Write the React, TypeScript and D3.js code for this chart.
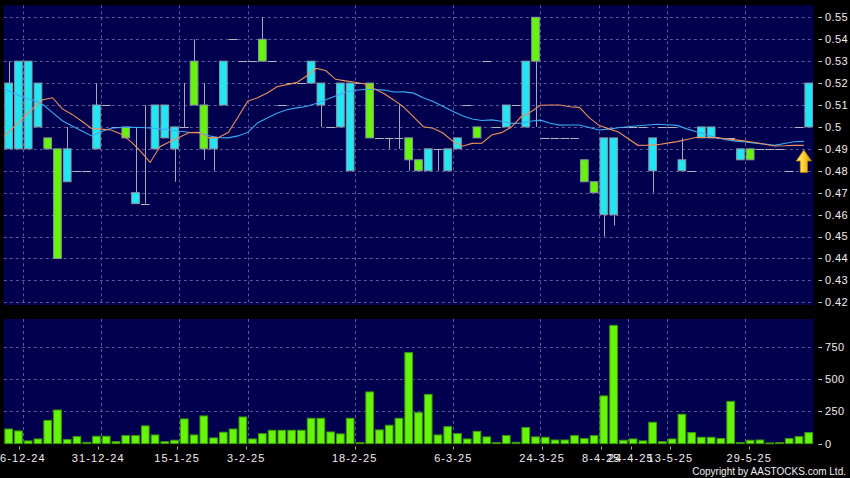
import React from "react";
import * as d3 from "d3";

// ---------- data ----------
const dateLabels = ["16-12-24", "31-12-24", "15-1-25", "3-2-25", "18-2-25", "6-3-25", "24-3-25", "8-4-25", "24-4-25", "13-5-25", "29-5-25"];
const dateIndex = [2, 10, 18, 25, 36, 46, 55, 61, 64, 68, 76];

const openP = [0.49, 0.49, 0.49, 0.5, 0.495, 0.49, 0.475, 0.48, 0.48, 0.49,
  0.51, 0.5, 0.5, 0.465, 0.465, 0.49, 0.495, 0.49, 0.5, 0.53,
  0.51, 0.49, 0.51, 0.54, 0.53, 0.53, 0.54, 0.53, 0.51, 0.52,
  0.52, 0.52, 0.51, 0.5, 0.5, 0.48, 0.52, 0.52, 0.495, 0.495,
  0.495, 0.495, 0.485, 0.48, 0.49, 0.48, 0.49, 0.51, 0.5, 0.53,
  0.5, 0.5, 0.51, 0.5, 0.55, 0.495, 0.495, 0.495, 0.495, 0.485,
  0.475, 0.46, 0.46, 0.5, 0.5, 0.5, 0.48, 0.5, 0.5, 0.48,
  0.48, 0.495, 0.495, 0.495, 0.495, 0.485, 0.49, 0.49, 0.49, 0.49,
  0.48, 0.5, 0.5];
const highP = [0.53, 0.53, 0.53, 0.52, 0.495, 0.49, 0.5, 0.48, 0.48, 0.52,
  0.51, 0.5, 0.5, 0.5, 0.51, 0.51, 0.51, 0.5, 0.52, 0.54,
  0.52, 0.495, 0.53, 0.54, 0.53, 0.53, 0.55, 0.53, 0.51, 0.52,
  0.52, 0.53, 0.52, 0.5, 0.52, 0.52, 0.52, 0.52, 0.495, 0.495,
  0.51, 0.495, 0.485, 0.49, 0.49, 0.49, 0.495, 0.51, 0.5, 0.53,
  0.5, 0.51, 0.51, 0.53, 0.55, 0.495, 0.495, 0.495, 0.495, 0.485,
  0.475, 0.495, 0.495, 0.5, 0.5, 0.5, 0.495, 0.5, 0.5, 0.495,
  0.48, 0.5, 0.5, 0.495, 0.495, 0.49, 0.49, 0.49, 0.49, 0.49,
  0.48, 0.5, 0.52];
const lowP = [0.49, 0.49, 0.49, 0.5, 0.49, 0.44, 0.475, 0.48, 0.48, 0.49,
  0.51, 0.5, 0.495, 0.465, 0.465, 0.49, 0.495, 0.475, 0.5, 0.51,
  0.485, 0.48, 0.51, 0.54, 0.53, 0.53, 0.53, 0.53, 0.51, 0.52,
  0.52, 0.52, 0.5, 0.5, 0.5, 0.48, 0.52, 0.495, 0.495, 0.49,
  0.49, 0.48, 0.48, 0.48, 0.48, 0.48, 0.49, 0.51, 0.495, 0.53,
  0.5, 0.5, 0.51, 0.5, 0.5, 0.495, 0.495, 0.495, 0.495, 0.475,
  0.47, 0.45, 0.455, 0.5, 0.5, 0.5, 0.47, 0.5, 0.5, 0.48,
  0.48, 0.495, 0.495, 0.495, 0.495, 0.485, 0.485, 0.49, 0.49, 0.49,
  0.48, 0.5, 0.5];
const closeP = [0.52, 0.53, 0.53, 0.52, 0.49, 0.44, 0.49, 0.48, 0.48, 0.51,
  0.51, 0.5, 0.495, 0.47, 0.465, 0.51, 0.51, 0.5, 0.5, 0.51,
  0.49, 0.495, 0.53, 0.54, 0.53, 0.53, 0.53, 0.53, 0.51, 0.52,
  0.52, 0.53, 0.52, 0.5, 0.52, 0.52, 0.52, 0.495, 0.495, 0.495,
  0.495, 0.485, 0.48, 0.49, 0.49, 0.49, 0.495, 0.51, 0.495, 0.53,
  0.5, 0.51, 0.51, 0.53, 0.53, 0.495, 0.495, 0.495, 0.495, 0.475,
  0.47, 0.495, 0.495, 0.5, 0.5, 0.5, 0.495, 0.5, 0.5, 0.485,
  0.48, 0.5, 0.5, 0.495, 0.495, 0.49, 0.485, 0.49, 0.49, 0.49,
  0.48, 0.5, 0.52];

const volumes = [113, 98, 21, 36, 180, 260, 31, 54, 10, 57,
  57, 15, 62, 62, 137, 67, 15, 26, 191, 67,
  214, 44, 88, 113, 206, 36, 77, 103, 103, 103,
  103, 196, 196, 90, 75, 196, 8, 400, 106, 142,
  196, 704, 240, 381, 67, 131, 77, 36, 95, 52,
  8, 62, 10, 124, 52, 49, 28, 28, 62, 39,
  62, 369, 915, 26, 36, 21, 165, 15, 36, 227,
  85, 49, 49, 39, 327, 8, 26, 28, 5, 8,
  39, 54, 85];

const maShort = [0.4956, 0.4998, 0.5041, 0.5085, 0.5124, 0.5133, 0.5082, 0.5057, 0.5026, 0.4993,
  0.499, 0.4986, 0.4968, 0.4934, 0.489, 0.4838, 0.491, 0.4932, 0.4953, 0.4974,
  0.4975, 0.4951, 0.4952, 0.4974, 0.5044, 0.5117, 0.5133, 0.5155, 0.5183, 0.5193,
  0.5202, 0.5231, 0.5267, 0.5257, 0.5217, 0.521, 0.5204, 0.5196, 0.5173, 0.5151,
  0.5122, 0.509, 0.5046, 0.5001, 0.4994, 0.4972, 0.4936, 0.4912, 0.4925, 0.4926,
  0.4963, 0.4974, 0.4998, 0.5045, 0.5068, 0.5099, 0.51, 0.51, 0.5092, 0.5089,
  0.5042, 0.5007, 0.4991, 0.4977, 0.4946, 0.4916, 0.4917, 0.4919, 0.4926, 0.4933,
  0.4943, 0.4953, 0.4952, 0.4951, 0.4946, 0.4941, 0.4935, 0.4929, 0.4921, 0.4913,
  0.4914, 0.4916, 0.4916];
const maLong = [0.5176, 0.5153, 0.5134, 0.5123, 0.5102, 0.5065, 0.5028, 0.5004, 0.4981, 0.4959,
  0.4979, 0.4994, 0.4997, 0.4998, 0.4997, 0.4995, 0.4991, 0.4987, 0.498, 0.4976,
  0.4974, 0.496, 0.4951, 0.495, 0.4959, 0.4975, 0.5018, 0.5041, 0.5062, 0.5078,
  0.5087, 0.5093, 0.5107, 0.5124, 0.5141, 0.5158, 0.5167, 0.5171, 0.5171, 0.5168,
  0.5159, 0.516, 0.5154, 0.5133, 0.5116, 0.5094, 0.5071, 0.5051, 0.5036, 0.5029,
  0.5032, 0.5026, 0.5016, 0.5017, 0.5026, 0.5031, 0.5017, 0.5008, 0.5009, 0.5009,
  0.4997, 0.4986, 0.499, 0.4996, 0.5001, 0.5005, 0.5009, 0.5012, 0.501, 0.5007,
  0.4991, 0.4978, 0.4965, 0.4952, 0.4942, 0.4935, 0.4931, 0.4926, 0.4922, 0.4916,
  0.4924, 0.4932, 0.4934];

const priceTicks = [0.42, 0.43, 0.44, 0.45, 0.46, 0.47, 0.48, 0.49, 0.5, 0.51, 0.52, 0.53, 0.54, 0.55];
const volumeTicks = [0, 250, 500, 750];
const gridVolumes = [250, 500, 750];

// ---------- layout ----------
const W = 850;
const H = 478;
const N = openP.length;
const plotL = 3.8;
const plotR = 813.6;
const priceTop = 5.3;
const priceBottom = 305;
const volTop = 319;
const volBottom = 443.8;

const xEdge = d3.scaleLinear().domain([0, N]).range([plotL, plotR]);
const xBand = d3.scaleBand<number>().domain(d3.range(N)).range([plotL, plotR]).paddingInner(0.11).paddingOuter(0.055);
const labelX = d3.scaleLinear().domain([0, N]).range([-0.4, 818.3]);
const yP = d3.scaleLinear().domain([0.42, 0.55]).range([302.3, 17.3]);
const yV = d3.scaleLinear().domain([0, 750]).range([443.6, 346.7]);

const CYAN = "#22e6f4";
const GREEN = "#66f50a";
const NAVY = "#00004e";
const GRID = "#5a5a98";
const FONT = "'Liberation Sans', Arial, sans-serif";

export default function App() {
  const bw = xBand.bandwidth();
  const maLine = d3.line<number>().x((_, k) => xEdge(k)).y((v) => yP(v));
  const arrowX = xEdge(82);
  const arrowTop = yP(0.4895);

  return (
    <svg width={W} height={H} style={{ position: "fixed", left: 0, top: 0, display: "block" }} fontFamily={FONT}>
      <defs>
        <clipPath id="pclip">
          <rect x={plotL} y={priceTop} width={plotR - plotL} height={priceBottom - priceTop} />
        </clipPath>
        <linearGradient id="arrowGrad" x1="0" x2="1" y1="0" y2="0">
          <stop offset="0" stopColor="#fff2a0" />
          <stop offset="0.45" stopColor="#ffd23a" />
          <stop offset="1" stopColor="#d99a00" />
        </linearGradient>
      </defs>
      <rect x={0} y={0} width={W} height={H} fill="#000" />

      {/* panels */}
      <rect x={plotL} y={priceTop} width={plotR - plotL} height={priceBottom - priceTop} fill={NAVY} />
      <rect x={plotL} y={volTop} width={plotR - plotL} height={volBottom - volTop} fill={NAVY} />

      {/* grids */}
      <g stroke={GRID} strokeWidth={1} strokeDasharray="3,3" fill="none">
        {priceTicks.map((p) => (
          <line key={"hp" + p} x1={plotL} x2={plotR} y1={Math.round(yP(p)) + 0.5} y2={Math.round(yP(p)) + 0.5} />
        ))}
        {gridVolumes.map((v) => (
          <line key={"hv" + v} x1={plotL} x2={plotR} y1={Math.round(yV(v)) + 0.5} y2={Math.round(yV(v)) + 0.5} />
        ))}
        {dateIndex.map((gi) => (
          <g key={"vg" + gi}>
            <line x1={Math.round(xEdge(gi)) + 0.5} x2={Math.round(xEdge(gi)) + 0.5} y1={priceTop} y2={priceBottom} />
            <line x1={Math.round(xEdge(gi)) + 0.5} x2={Math.round(xEdge(gi)) + 0.5} y1={volTop} y2={volBottom} />
          </g>
        ))}
      </g>

      {/* candles */}
      <g clipPath="url(#pclip)">
        {openP.map((o, i) => {
          const c = closeP[i];
          const h = highP[i];
          const l = lowP[i];
          const x0 = xBand(i) as number;
          const cx = Math.round(x0 + bw / 2) + 0.5;
          const wick = h !== l ? (
            <line x1={cx} x2={cx} y1={yP(h)} y2={yP(l)} stroke="#a8a8b8" strokeWidth={1} />
          ) : null;
          if (o === c) {
            return (
              <g key={"c" + i}>
                {wick}
                <line x1={x0} x2={x0 + bw} y1={Math.round(yP(o)) + 0.5} y2={Math.round(yP(o)) + 0.5} stroke="#b4b4c4" strokeWidth={1} />
              </g>
            );
          }
          const top = yP(Math.max(o, c));
          const bot = yP(Math.min(o, c));
          return (
            <g key={"c" + i}>
              {wick}
              <rect x={x0 + 0.5} y={top} width={bw - 1} height={bot - top} fill={c > o ? CYAN : GREEN} stroke="#8a96a0" strokeWidth={1} />
            </g>
          );
        })}
        <path d={maLine(maLong) || ""} fill="none" stroke="#3ea8f2" strokeWidth={1.1} />
        <path d={maLine(maShort) || ""} fill="none" stroke="#e8915c" strokeWidth={1.1} />
      </g>

      {/* arrow */}
      <path
        d={`M${arrowX},${arrowTop} L${arrowX + 7.6},${arrowTop + 11} L${arrowX + 3.6},${arrowTop + 11} L${arrowX + 3.6},${arrowTop + 22.5} L${arrowX - 3.6},${arrowTop + 22.5} L${arrowX - 3.6},${arrowTop + 11} L${arrowX - 7.6},${arrowTop + 11} Z`}
        fill="url(#arrowGrad)"
        stroke="#b58300"
        strokeWidth={0.8}
      />

      {/* volume bars */}
      <g>
        {volumes.map((v, i) => {
          const x0 = xBand(i) as number;
          const top = yV(v);
          return (
            <rect key={"v" + i} x={x0 + 0.5} y={top} width={bw - 1} height={Math.max(yV(0) - top, 0.8)} fill={GREEN} stroke="#3c9a08" strokeWidth={1} />
          );
        })}
      </g>

      {/* price axis */}
      <g fill="#eeeeee" fontSize={11} letterSpacing={0.4}>
        {priceTicks.map((p) => (
          <g key={"pt" + p}>
            <line x1={818.5} x2={822} y1={Math.round(yP(p)) + 0.5} y2={Math.round(yP(p)) + 0.5} stroke="#cccccc" />
            <text x={825} y={yP(p)} dy="0.36em">{p.toFixed(2).replace(/^0\.(\d)0$/, "0.$1")}</text>
          </g>
        ))}
      </g>

      {/* volume axis */}
      <g fill="#eeeeee" fontSize={11} letterSpacing={0.4}>
        {volumeTicks.map((v) => (
          <g key={"vt" + v}>
            <line x1={818.5} x2={822} y1={Math.round(yV(v)) + 0.5} y2={Math.round(yV(v)) + 0.5} stroke="#cccccc" />
            <text x={825} y={yV(v)} dy="0.36em">{v}</text>
          </g>
        ))}
      </g>

      {/* date axis */}
      <g fill="#eeeeee" fontSize={11} letterSpacing={1.1}>
        {dateIndex.map((gi, k) => (
          <g key={"dt" + gi}>
            <line x1={Math.round(labelX(gi)) + 0.5} x2={Math.round(labelX(gi)) + 0.5} y1={446.5} y2={449.5} stroke="#aaaaaa" />
            <text x={labelX(gi)} y={461.5} textAnchor="middle">{dateLabels[k]}</text>
          </g>
        ))}
      </g>

      <text x={846} y={474.5} textAnchor="end" fill="#eeeeee" fontSize={10}>
        Copyright by AASTOCKS.com Ltd.
      </text>
    </svg>
  );
}
